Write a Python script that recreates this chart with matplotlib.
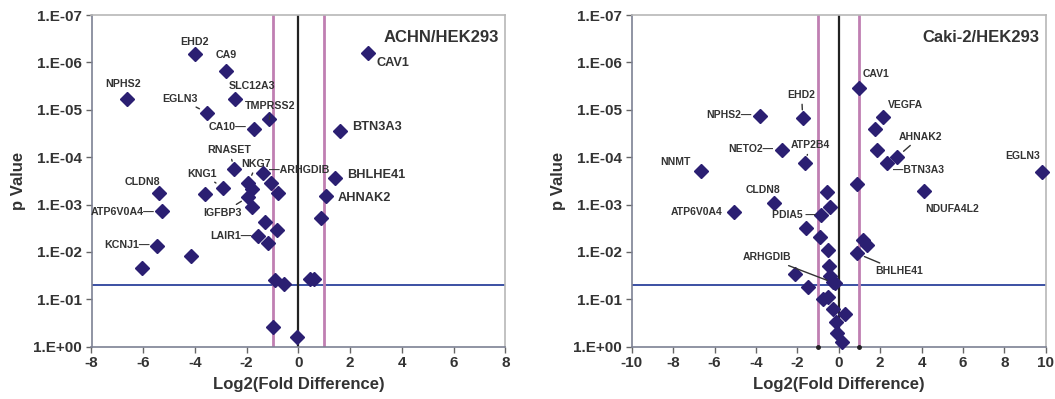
import matplotlib
matplotlib.use("Agg")
import matplotlib.pyplot as plt
import numpy as np

plt.rcParams['font.family'] = ['Liberation Sans', 'DejaVu Sans']
plt.rcParams['font.weight'] = 'bold'

# ---------------- data: ACHN/HEK293 ----------------
achn_genes = ["EHD2", "CA9", "NPHS2", "SLC12A3", "EGLN3", "TMPRSS2", "CA10", "CAV1",
              "BTN3A3", "BHLHE41", "AHNAK2", "", "RNASET", "NKG7", "ARHGDIB", "", "",
              "KNG1", "", "CLDN8", "ATP6V0A4", "KCNJ1", "", "", "", "IGFBP3", "", "",
              "", "LAIR1", "", "", "", "", "", "", ""]
achn_log2fd = [-4.00, -2.81, -6.64, -2.45, -3.54, -1.12, -1.71, 2.71,
               1.59, 1.42, 1.06, 0.87, -2.48, -1.93, -1.35, -1.07, -0.77,
               -2.92, -3.61, -5.39, -5.28, -5.45, -4.16, -6.06, -1.80, -1.93, -1.80, -1.29,
               -0.81, -1.57, -1.18, -0.90, -0.54, 0.45, 0.61, -0.97, -0.04]
achn_p = [6.8e-7, 1.5e-6, 6.0e-6, 5.8e-6, 1.15e-5, 1.6e-5, 2.5e-5, 6.3e-7,
          2.8e-5, 2.7e-4, 6.6e-4, 1.95e-3, 1.8e-4, 3.5e-4, 2.2e-4, 3.5e-4, 5.8e-4,
          4.4e-4, 6.0e-4, 5.6e-4, 1.35e-3, 7.6e-3, 1.2e-2, 2.2e-2, 4.8e-4, 6.9e-4, 1.15e-3, 2.3e-3,
          3.5e-3, 4.6e-3, 6.6e-3, 3.9e-2, 4.8e-2, 3.8e-2, 3.8e-2, 0.38, 0.62]

# ---------------- data: Caki-2/HEK293 ----------------
caki_genes = ["CAV1", "VEGFA", "", "", "AHNAK2", "BTN3A3", "EGLN3", "EHD2", "ATP2B4",
              "NETO2", "NPHS2", "NNMT", "", "", "NDUFA4L2", "CLDN8", "ATP6V0A4", "",
              "PDIA5", "", "", "", "BHLHE41", "", "", "", "", "", "ARHGDIB", "", "",
              "", "", "", "", "", "", ""]
caki_log2fd = [1.00, 2.15, 1.75, 1.86, 2.83, 2.35, 9.82, -1.74, -1.63,
               -2.75, -3.80, -6.65, 0.88, -0.58, 4.12, -3.11, -5.06, -0.42,
               -0.86, -1.58, -0.90, -0.50, 0.87, 1.16, 1.38, -0.45, -2.11, -0.42, -0.18, -0.26, -1.47,
               -0.74, -0.50, -0.26, 0.30, -0.13, -0.07, 0.14]
caki_p = [3.5e-6, 1.4e-5, 2.6e-5, 7.2e-5, 9.8e-5, 1.3e-4, 2.1e-4, 1.5e-5, 1.35e-4,
          7.1e-5, 1.35e-5, 2.0e-4, 3.7e-4, 5.5e-4, 5.1e-4, 9.3e-4, 1.45e-3, 1.1e-3,
          1.7e-3, 3.2e-3, 4.8e-3, 9.1e-3, 1.07e-2, 5.6e-3, 7.1e-3, 2.0e-2, 2.95e-2, 3.3e-2, 4.6e-2, 4.3e-2, 5.6e-2,
          0.10, 9.1e-2, 0.16, 0.20, 0.30, 0.52, 0.78]

p_threshold = 0.05
fold_cut = 1.0
y_ticks_p = [1e0, 1e-1, 1e-2, 1e-3, 1e-4, 1e-5, 1e-6, 1e-7]
y_tick_labels = ["1.E+00", "1.E-01", "1.E-02", "1.E-03", "1.E-04", "1.E-05", "1.E-06", "1.E-07"]

# label layout: (dx px, dy px up, ha, leader, fontsize)
achn_layout = {
    "EHD2": (0, 12, 'center', False, 7.7),
    "CA9": (0, 16, 'center', False, 7.7),
    "NPHS2": (-4, 15, 'center', False, 7.7),
    "SLC12A3": (17, 13, 'center', False, 7.7),
    "EGLN3": (-27, 14, 'center', True, 7.7),
    "TMPRSS2": (1, 13, 'center', True, 7.7),
    "CA10": (-8, 2, 'right', "CA10\u2014", 7.7),
    "CAV1": (8, -10, 'left', False, 9.2),
    "BTN3A3": (13, 4, 'left', False, 9.2),
    "BHLHE41": (12, 3, 'left', False, 9.2),
    "AHNAK2": (12, -2, 'left', False, 9.2),
    "RNASET": (-5, 19, 'center', True, 7.7),
    "NKG7": (8, 19, 'center', True, 7.7),
    "ARHGDIB": (6, 3, 'left', "\u2014ARHGDIB", 7.7),
    "KNG1": (-21, 14, 'center', True, 7.7),
    "IGFBP3": (-26, -16, 'center', True, 7.7),
    "LAIR1": (-6, 0, 'right', "LAIR1\u2014", 7.7),
    "KCNJ1": (-8, 1, 'right', "KCNJ1\u2014", 7.7),
    "ATP6V0A4": (-7, -1, 'right', "ATP6V0A4\u2014", 7.7),
    "CLDN8": (-17, 11, 'center', False, 7.7),
}
caki_layout = {
    "CAV1": (3, 14, 'left', False, 7.5),
    "VEGFA": (5, 12, 'left', False, 7.5),
    "AHNAK2": (23, 20, 'center', True, 7.5),
    "BTN3A3": (6, -7, 'left', "\u2014BTN3A3", 7.5),
    "EGLN3": (-19, 16, 'center', False, 7.5),
    "EHD2": (-1, 23, 'center', True, 7.5),
    "ATP2B4": (5, 18, 'center', True, 7.5),
    "NETO2": (-9, 1, 'right', "NETO2\u2014", 7.5),
    "NPHS2": (-9, 1, 'right', "NPHS2\u2014", 7.5),
    "NNMT": (-26, 9, 'center', False, 7.5),
    "NDUFA4L2": (28, -18, 'center', False, 7.5),
    "CLDN8": (-11, 13, 'center', False, 7.5),
    "ATP6V0A4": (-11, 0, 'right', False, 7.5),
    "PDIA5": (-5, 0, 'right', "PDIA5 \u2014", 7.5),
    "ARHGDIB": (-68, 26, 'center', True, 7.5),
    "BHLHE41": (19, -18, 'left', True, 7.5),
}

W, H = 1055, 399
fig = plt.figure(figsize=(W / 100, H / 100), dpi=100)
fig.patch.set_facecolor('white')

marker_color = '#2b1f72'
text_color = '#333333'


def draw_panel(rect, genes, xs, ps, layout, title, xlim, xticks, dots):
    ax = fig.add_axes(rect)
    ax.set_yscale('log')
    ax.set_ylim(1e0, 1e-7)
    ax.set_xlim(*xlim)
    ax.set_xticks(xticks)
    ax.set_xticklabels([str(t) for t in xticks])
    ax.set_yticks(y_ticks_p)
    ax.set_yticklabels(y_tick_labels)
    ax.minorticks_off()
    ax.tick_params(axis='both', labelsize=11, length=4, width=1, color='#666666',
                   labelcolor=text_color, pad=3)
    for lab in ax.get_xticklabels() + ax.get_yticklabels():
        lab.set_fontweight('bold')
    for side in ['left', 'bottom']:
        ax.spines[side].set_color('#7d8194')
        ax.spines[side].set_linewidth(1.2)
    for side in ['top', 'right']:
        ax.spines[side].set_color('#b8b8b8')
        ax.spines[side].set_linewidth(1.2)

    ax.axhline(p_threshold, color='#3b50a3', lw=1.4, zorder=1)
    ax.axvline(-fold_cut, color='#c07fb2', lw=2.0, zorder=1)
    ax.axvline(fold_cut, color='#c07fb2', lw=2.0, zorder=1)
    ax.axvline(0, color='#222222', lw=1.6, zorder=1)
    if dots:
        ax.plot([-fold_cut, fold_cut], [1e0, 1e0], 'o', color='#222222', ms=2.5,
                clip_on=False, zorder=4)

    ax.plot(xs, ps, 'D', color=marker_color, ms=7.2, mec=marker_color, zorder=3,
            clip_on=False)

    for g, x, p in zip(genes, xs, ps):
        if not g or g not in layout:
            continue
        dx, dy, ha, leader, fs = layout[g]
        txt = g
        if isinstance(leader, str):
            txt = leader
            leader = False
        if leader:
            ax.annotate(txt, xy=(x, p), xytext=(dx, dy), textcoords='offset pixels',
                        ha=ha, va='center', fontsize=fs, fontweight='bold', color=text_color,
                        arrowprops=dict(arrowstyle='-', color='#333333', lw=1.0,
                                        shrinkA=1, shrinkB=6), zorder=5)
        else:
            ax.annotate(txt, xy=(x, p), xytext=(dx, dy), textcoords='offset pixels',
                        ha=ha, va='center', fontsize=fs, fontweight='bold', color=text_color,
                        zorder=5)

    ax.text(0.985, 0.955, title, transform=ax.transAxes, ha='right', va='top',
            fontsize=12, fontweight='bold', color=text_color)
    ax.set_xlabel('Log2(Fold Difference)', fontsize=12, fontweight='bold',
                  color=text_color, labelpad=5)
    ax.set_ylabel('p Value', fontsize=12, fontweight='bold', color=text_color, labelpad=5)
    return ax


ax_y0 = (H - 346.7) / H
ax_h = (346.7 - 15) / H
draw_panel([91.5 / W, ax_y0, 413.8 / W, ax_h], achn_genes, achn_log2fd, achn_p,
           achn_layout, 'ACHN/HEK293', (-8, 8), list(range(-8, 9, 2)), False)
draw_panel([631.7 / W, ax_y0, 414.0 / W, ax_h], caki_genes, caki_log2fd, caki_p,
           caki_layout, 'Caki-2/HEK293', (-10, 10), list(range(-10, 11, 2)), True)

fig.savefig('out.png', dpi=100, facecolor='white')
